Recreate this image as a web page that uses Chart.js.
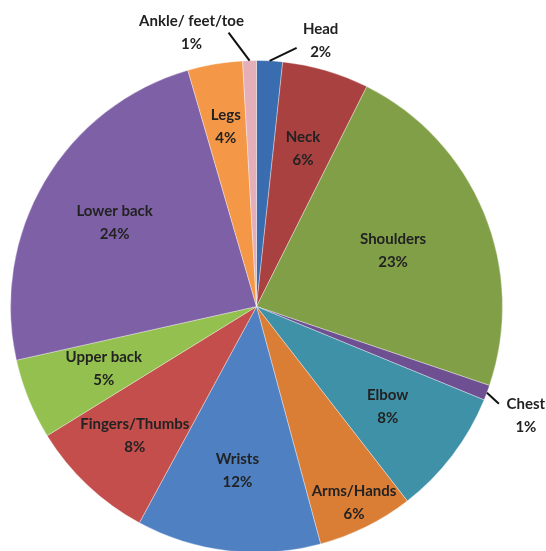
<!DOCTYPE html>
<html>
<head>
<meta charset="utf-8">
<script src="https://cdn.jsdelivr.net/npm/chart.js@4"></script>
<style>
  html, body { margin: 0; padding: 0; background: #fff; overflow: hidden; }
  #wrap { width: 546px; height: 551px; overflow: hidden; }
</style>
</head>
<body>
<div id="wrap"><canvas id="chart" width="546" height="560"></canvas></div>
<script>
// slices clockwise from 12 o'clock
var categories = ['Head', 'Neck', 'Shoulders', 'Chest', 'Elbow', 'Arms/Hands', 'Wrists',
                  'Fingers/Thumbs', 'Upper back', 'Lower back', 'Legs', 'Ankle/ feet/toe'];
var percentValues = [1.7, 5.7, 22.8, 1.0, 8.3, 6.3, 12.1, 8.3, 5.3, 24.0, 3.6, 0.9];
var sliceColors = ['#3a6cb0', '#a8413f', '#809f47', '#6e4f91', '#3f91a8', '#da7d35', '#4f80c2',
                   '#c44e4b', '#93c04f', '#7e60a6', '#f49848', '#e5afba'];

// how far out (fraction of radius) the inside labels sit
var labelRadius = { 'Shoulders': 0.60, 'Fingers/Thumbs': 0.72, 'Arms/Hands': 0.89, 'Legs': 0.74 };

// small slices get their label outside with a leader line (offsets from slice edge)
var outsideLabels = {
    'Head': { line: [27, -13], text: [51, -20] },
    'Chest': { line: [12, 11], text: [39, 23] },
    'Ankle/ feet/toe': { line: [-21, -28], text: [-58, -28] }
};

var sliceLabels = {
    id: 'sliceLabels',
    afterDatasetsDraw: function(chart) {
        var ctx = chart.ctx;
        var meta = chart.getDatasetMeta(0);
        var total = percentValues.reduce(function(a, b) { return a + b; }, 0);

        ctx.save();
        ctx.font = 'bold 15px Lato';
        ctx.fillStyle = '#222';
        ctx.textAlign = 'center';
        ctx.textBaseline = 'middle';

        for (var i = 0; i < meta.data.length; i++) {
            var p = meta.data[i].getProps(['x', 'y', 'startAngle', 'endAngle', 'outerRadius'], true);
            var mid = (p.startAngle + p.endAngle) / 2;
            var name = categories[i];
            var pct = Math.round(percentValues[i] / total * 100) + '%';
            var tx, ty;

            if (outsideLabels[name]) {
                var o = outsideLabels[name];
                var ex = p.x + Math.cos(mid) * p.outerRadius;
                var ey = p.y + Math.sin(mid) * p.outerRadius;
                ctx.beginPath();
                ctx.moveTo(ex, ey);
                ctx.lineTo(ex + o.line[0], ey + o.line[1]);
                ctx.lineWidth = 2;
                ctx.strokeStyle = '#111';
                ctx.stroke();
                tx = ex + o.text[0];
                ty = ey + o.text[1];
            } else {
                var f = labelRadius[name] || 0.67;
                tx = p.x + Math.cos(mid) * p.outerRadius * f;
                ty = p.y + Math.sin(mid) * p.outerRadius * f;
            }
            ctx.fillText(name, tx, ty - 11.5);
            ctx.fillText(pct, tx, ty + 11.5);
        }
        ctx.restore();
    }
};

new Chart(document.getElementById('chart'), {
    type: 'pie',
    data: {
        labels: categories,
        datasets: [{
            data: percentValues,
            backgroundColor: sliceColors,
            borderColor: 'rgba(255,255,255,0.35)',
            borderWidth: 1,
            hoverOffset: 0
        }]
    },
    options: {
        responsive: false,
        animation: false,
        layout: { padding: { left: 10, right: 43, top: 60, bottom: 7 } },
        plugins: {
            legend: { display: false },
            tooltip: { enabled: false }
        }
    },
    plugins: [sliceLabels]
});
</script>
</body>
</html>
